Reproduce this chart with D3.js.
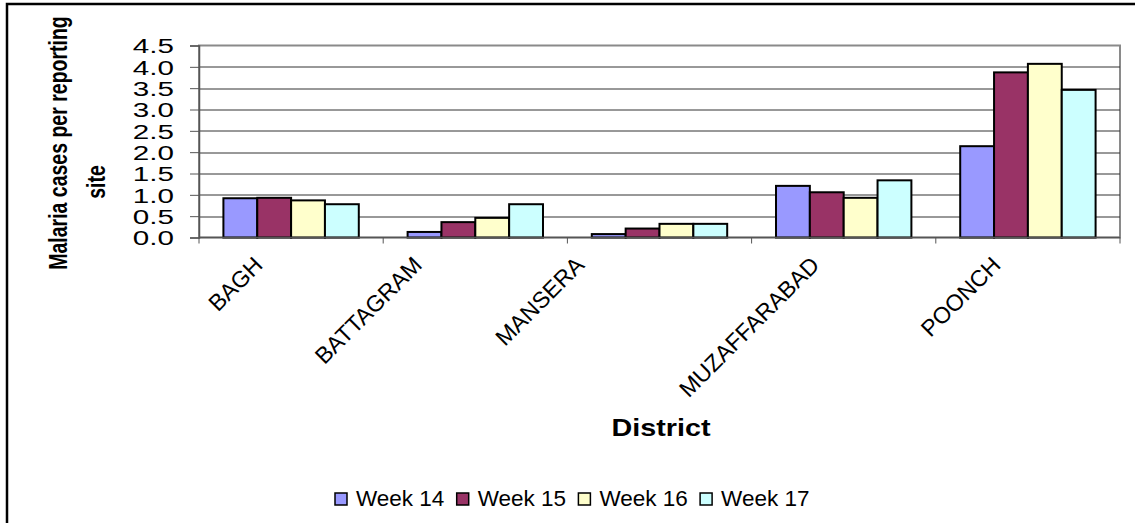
<!DOCTYPE html>
<html>
<head>
<meta charset="utf-8">
<script src="https://cdn.jsdelivr.net/npm/d3@7"></script>
<style>
  body { margin: 0; background: #fff; }
  svg { display: block; font-family: Arial, "Liberation Sans", sans-serif; }
</style>
</head>
<body>
<script>
// chart values
var districts = ['BAGH', 'BATTAGRAM', 'MANSERA', 'MUZAFFARABAD', 'POONCH'];
var weeks = ['Week 14', 'Week 15', 'Week 16', 'Week 17'];
var week14 = [0.92, 0.13, 0.08, 1.21, 2.14];
var week15 = [0.93, 0.36, 0.21, 1.06, 3.87];
var week16 = [0.87, 0.46, 0.32, 0.93, 4.07];
var week17 = [0.78, 0.78, 0.32, 1.34, 3.46];
var yTicks = [0, 0.5, 1.0, 1.5, 2.0, 2.5, 3.0, 3.5, 4.0, 4.5];

var series = [week14, week15, week16, week17];
var colors = ['#9999FF', '#993366', '#FFFFCC', '#CCFFFF'];

// excel put the rotated labels a bit off the category centre
var labelNudge = [-27, -52, -74, -23, -26];

var svgWidth = 1135,
    svgHeight = 523;

var margin = {top: 45.5, left: 199, bottom: 285.5, right: 15};
var width = svgWidth - margin.left - margin.right,
    height = svgHeight - margin.top - margin.bottom;

var svg = d3.select('body').append('svg')
  .attr('width', svgWidth)
  .attr('height', svgHeight)

// outer chart border (runs off the right/bottom edge)
svg.append('rect')
  .attr('x', 7).attr('y', 4)
  .attr('width', svgWidth + 20).attr('height', svgHeight + 20)
  .attr('fill', 'white')
  .attr('stroke', '#000')
  .attr('stroke-width', 2.5)

var g = svg.append('g')
  .attr('transform', `translate(${margin.left},${margin.top})`)

var x0 = d3.scaleBand().domain(districts).range([0, width])
var gap = x0.bandwidth() * 0.265
var x1 = d3.scaleBand().domain(weeks).range([gap / 2, x0.bandwidth() - gap / 2])
var y = d3.scaleLinear().domain([0, 4.5]).range([height, 0])

// plot area frame
g.append('rect')
  .attr('x', 0).attr('y', 0)
  .attr('width', width).attr('height', height)
  .attr('fill', 'white')
  .attr('stroke', '#8a8a8a')
  .attr('stroke-width', 2)

// gridlines
g.selectAll('.grid').data(yTicks.filter(d => d > 0 && d < 4.5)).enter()
  .append('line')
  .attr('class', 'grid')
  .attr('x1', 0).attr('x2', width)
  .attr('y1', d => Math.round(y(d)) + 0.5).attr('y2', d => Math.round(y(d)) + 0.5)
  .attr('stroke', '#333')
  .attr('stroke-width', 1)

// bars
var groups = g.selectAll('.district').data(districts).enter()
  .append('g')
  .attr('class', 'district')
  .attr('transform', d => `translate(${x0(d)},0)`)

groups.selectAll('rect')
  .data((d, i) => weeks.map((w, j) => ({week: w, idx: j, value: series[j][i]})))
  .enter().append('rect')
  .attr('x', d => x1(d.week))
  .attr('y', d => y(d.value))
  .attr('width', x1.bandwidth())
  .attr('height', d => height - y(d.value))
  .attr('fill', d => colors[d.idx])
  .attr('stroke', '#000')
  .attr('stroke-width', 2)

// y axis
var yAxis = d3.axisLeft(y).tickValues(yTicks).tickSize(9).tickFormat(d3.format('.1f'))
var ya = g.append('g').call(yAxis)
ya.select('.domain').attr('stroke', '#555').attr('stroke-width', 1.5)
ya.selectAll('.tick line').attr('stroke', '#555')
ya.selectAll('.tick text').remove()
ya.selectAll('.tick').append('text')
  .attr('transform', 'translate(-25,0) scale(1.48,1)')
  .attr('dy', '0.36em')
  .attr('text-anchor', 'end')
  .attr('font-size', 20)
  .attr('fill', '#000')
  .text(d => d3.format('.1f')(d))

// x axis: ticks between the categories
var xa = g.append('g').attr('transform', `translate(0,${height})`)
xa.append('line')
  .attr('x1', 0).attr('x2', width)
  .attr('stroke', '#555').attr('stroke-width', 1.5)
xa.selectAll('.xtick').data(d3.range(districts.length + 1)).enter()
  .append('line')
  .attr('class', 'xtick')
  .attr('x1', d => d * x0.step()).attr('x2', d => d * x0.step())
  .attr('y1', 0).attr('y2', 6)
  .attr('stroke', '#555')

xa.selectAll('.xlabel').data(districts).enter()
  .append('text')
  .attr('class', 'xlabel')
  .attr('transform', (d, i) => `translate(${x0(d) + x0.bandwidth() / 2 + labelNudge[i]},29) rotate(-45)`)
  .attr('text-anchor', 'end')
  .attr('font-size', 23)
  .attr('fill', '#000')
  .text(d => d)

// axis titles
svg.append('text')
  .attr('x', 661).attr('y', 436)
  .attr('text-anchor', 'middle')
  .attr('font-size', 24)
  .attr('font-weight', 'bold')
  .attr('textLength', 99)
  .attr('lengthAdjust', 'spacingAndGlyphs')
  .text('District')

svg.append('text')
  .attr('transform', 'translate(67,143) rotate(-90) scale(1,1.35)')
  .attr('text-anchor', 'middle')
  .attr('font-size', 19.5)
  .attr('font-weight', 'bold')
  .text('Malaria cases per reporting')

svg.append('text')
  .attr('transform', 'translate(105,182) rotate(-90) scale(1,1.35)')
  .attr('text-anchor', 'middle')
  .attr('font-size', 19.5)
  .attr('font-weight', 'bold')
  .text('site')

// legend
var legend = svg.append('g').attr('transform', 'translate(335,493)')
var item = legend.selectAll('.item').data(weeks).enter()
  .append('g')
  .attr('class', 'item')
  .attr('transform', (d, i) => `translate(${i * 121.7},0)`)

item.append('rect')
  .attr('width', 12).attr('height', 12)
  .attr('fill', (d, i) => colors[i])
  .attr('stroke', '#000')
  .attr('stroke-width', 1.5)

item.append('text')
  .attr('x', 21).attr('y', 12.5)
  .attr('font-size', 22.5)
  .attr('fill', '#000')
  .text(d => d)
</script>
</body>
</html>
